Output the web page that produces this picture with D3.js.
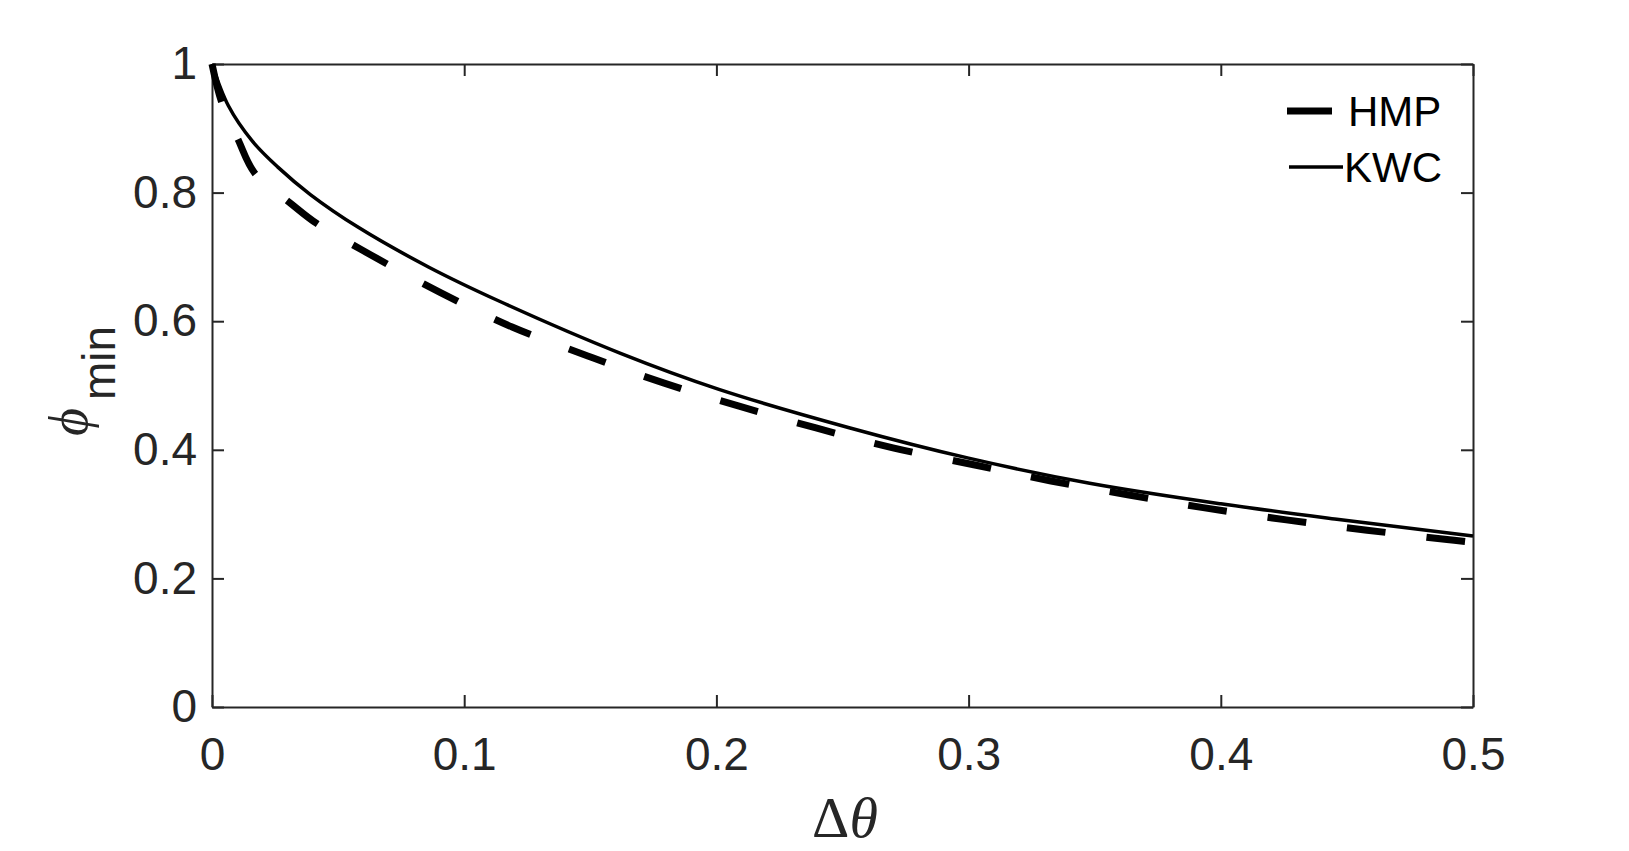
<html>
<head>
<meta charset="UTF-8">
<title>phi min vs delta theta</title>
<script src="https://d3js.org/d3.v7.min.js"></script>
<style>
  body { margin: 0; background: #fff; }
  .tick text { font-family: "Liberation Sans", Arial, sans-serif; fill: #262626; }
</style>
</head>
<body>
<svg width="1629" height="851"></svg>
<script>

// values
var hmpX = [0, 0.0038, 0.0104, 0.017, 0.0316, 0.0415, 0.063, 0.0908, 0.119, 0.149, 0.179, 0.209, 0.2395, 0.270, 0.303, 0.3327, 0.3636, 0.393, 0.426, 0.458, 0.4897, 0.5];
var hmpY = [1.0, 0.941, 0.882, 0.830, 0.782, 0.752, 0.703, 0.644, 0.591, 0.546, 0.504, 0.468, 0.434, 0.403, 0.376, 0.3515, 0.3297, 0.310, 0.291, 0.275, 0.2605, 0.256];

var kwcX = [0, 0.0065, 0.016, 0.026, 0.039, 0.058, 0.086, 0.114, 0.162, 0.201, 0.253, 0.300, 0.348, 0.400, 0.446, 0.500];
var kwcY = [1.0, 0.935, 0.880, 0.840, 0.797, 0.746, 0.684, 0.631, 0.550, 0.494, 0.434, 0.387, 0.348, 0.316, 0.292, 0.266];

var xTicks = [0, 0.1, 0.2, 0.3, 0.4, 0.5];
var yTicks = [0, 0.2, 0.4, 0.6, 0.8, 1];
var legendNames = ["HMP", "KWC"];

var svg = d3.select("svg");
var mLeft = 212, mRight = 1473, mTop = 64, mBottom = 707;
var axisColor = "#262626";

var x = d3.scaleLinear().domain([0, 0.5]).range([mLeft, mRight]);
var y = d3.scaleLinear().domain([0, 1]).range([mBottom, mTop]);

function fmt(d) { return String(d); }

var gx = svg.append("g")
    .attr("transform", "translate(0," + mBottom + ")")
    .call(d3.axisBottom(x).tickValues(xTicks).tickFormat(fmt)
      .tickSizeInner(-12).tickSizeOuter(0).tickPadding(30));
var gy = svg.append("g")
    .attr("transform", "translate(" + mLeft + ",0)")
    .call(d3.axisLeft(y).tickValues(yTicks).tickFormat(fmt)
      .tickSizeInner(-12).tickSizeOuter(0).tickPadding(15));
var gt = svg.append("g")
    .attr("transform", "translate(0," + mTop + ")")
    .call(d3.axisTop(x).tickValues(xTicks).tickFormat("")
      .tickSizeInner(-12).tickSizeOuter(0));
var gr = svg.append("g")
    .attr("transform", "translate(" + mRight + ",0)")
    .call(d3.axisRight(y).tickValues(yTicks).tickFormat("")
      .tickSizeInner(-12).tickSizeOuter(0));

[gx, gy, gt, gr].forEach(function(g) {
  g.selectAll(".domain, .tick line").attr("stroke", axisColor).attr("stroke-width", 2);
  g.selectAll(".tick text").attr("font-size", 46).attr("fill", axisColor);
});

var line = d3.line()
    .x(function(d) { return x(d[0]); })
    .y(function(d) { return y(d[1]); })
    .curve(d3.curveCatmullRom.alpha(0.5));

var kwc = kwcX.map(function(v, i) { return [v, kwcY[i]]; });
var hmp = hmpX.map(function(v, i) { return [v, hmpY[i]]; });

svg.append("path")
    .datum(kwc)
    .attr("fill", "none")
    .attr("stroke", "#000")
    .attr("stroke-width", 3.5)
    .attr("d", line);

svg.append("path")
    .datum(hmp)
    .attr("fill", "none")
    .attr("stroke", "#000")
    .attr("stroke-width", 7)
    .attr("stroke-dasharray", "39,41")
    .attr("d", line);

// legend
var leg = svg.append("g");
leg.append("line").attr("x1", 1287).attr("x2", 1332).attr("y1", 111).attr("y2", 111)
    .attr("stroke", "#000").attr("stroke-width", 7);
leg.append("line").attr("x1", 1289).attr("x2", 1343).attr("y1", 167).attr("y2", 167)
    .attr("stroke", "#000").attr("stroke-width", 3.5);
leg.selectAll("text.name")
    .data(legendNames)
  .enter().append("text")
    .attr("class", "name")
    .attr("x", function(d, i) { return i == 0 ? 1348 : 1344; })
    .attr("y", function(d, i) { return i == 0 ? 111 : 167; })
    .attr("dy", "0.35em")
    .attr("font-family", "Liberation Sans, Arial, sans-serif")
    .attr("font-size", 42)
    .attr("fill", "#000")
    .text(function(d) { return d; });

// x label
var xl = svg.append("text")
    .attr("x", 845).attr("y", 837)
    .attr("text-anchor", "middle")
    .attr("font-family", "Liberation Serif, Times New Roman, serif")
    .attr("font-size", 58)
    .attr("fill", axisColor);
xl.append("tspan").text("Δ");
xl.append("tspan").attr("font-style", "italic").text("θ");

// y label
var yl = svg.append("text")
    .attr("transform", "translate(87,436) rotate(-90)")
    .attr("fill", axisColor);
yl.append("tspan")
    .attr("font-family", "Liberation Serif, Times New Roman, serif")
    .attr("font-style", "italic")
    .attr("font-size", 54)
    .text("ϕ");
yl.append("tspan")
    .attr("dx", 8).attr("dy", 28)
    .attr("font-family", "Liberation Sans, Arial, sans-serif")
    .attr("font-size", 46)
    .text("min");

</script>
</body>
</html>
